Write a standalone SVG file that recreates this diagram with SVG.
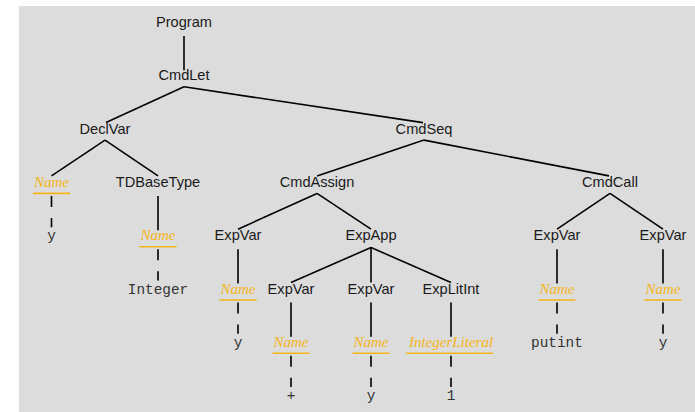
<svg xmlns="http://www.w3.org/2000/svg" width="695" height="412" viewBox="0 0 695 412">
<style>
.n{font-family:"Liberation Sans",Arial,sans-serif;font-size:14.6px;fill:#1a1a1a;text-anchor:middle}
.nm{font-family:"Liberation Serif","Times New Roman",serif;font-style:italic;font-size:15px;fill:#f4b41a;text-anchor:middle}
.lx{font-family:"Liberation Mono","Courier New",monospace;font-size:14.4px;fill:#333;text-anchor:middle}
.ul{stroke:#f4b41a;stroke-width:1.6}
.e line{stroke:#000;stroke-width:1.6}
.e line.d{stroke-dasharray:11 11}
</style>
<rect x="19" y="6" width="676" height="406" fill="#dcdcdc"/>
<g class="e" id="connectors">
<line x1="184" y1="36" x2="184" y2="70.3"/>
<line x1="184" y1="86.8" x2="106" y2="122.6"/>
<line x1="184" y1="86.8" x2="423" y2="122.6"/>
<line x1="105" y1="140.1" x2="51.5" y2="175.9"/>
<line x1="105" y1="140.1" x2="158" y2="175.9"/>
<line class="d" x1="51.5" y1="195.9" x2="51.5" y2="227.2"/>
<line x1="158" y1="195.9" x2="158" y2="230.2"/>
<line class="d" x1="158" y1="249.2" x2="158" y2="280.5"/>
<line x1="424" y1="140.1" x2="317" y2="175.9"/>
<line x1="424" y1="140.1" x2="609" y2="175.9"/>
<line x1="317" y1="193.4" x2="238" y2="229.2"/>
<line x1="317" y1="193.4" x2="371" y2="229.2"/>
<line x1="238" y1="249.2" x2="238" y2="283.5"/>
<line class="d" x1="238" y1="302.5" x2="238" y2="333.8"/>
<line x1="371" y1="247.5" x2="291" y2="282.5"/>
<line x1="371" y1="247.5" x2="371" y2="282.5"/>
<line x1="371" y1="247.5" x2="451" y2="282.5"/>
<line x1="291" y1="302.5" x2="291" y2="336.8"/>
<line x1="371" y1="302.5" x2="371" y2="336.8"/>
<line x1="451" y1="302.5" x2="451" y2="336.8"/>
<line class="d" x1="291" y1="355.8" x2="291" y2="387.1"/>
<line class="d" x1="371" y1="355.8" x2="371" y2="387.1"/>
<line class="d" x1="451" y1="355.8" x2="451" y2="387.1"/>
<line x1="610" y1="193.4" x2="557" y2="229.2"/>
<line x1="610" y1="193.4" x2="663" y2="229.2"/>
<line x1="557" y1="249.2" x2="557" y2="283.5"/>
<line x1="663" y1="249.2" x2="663" y2="283.5"/>
<line class="d" x1="557" y1="302.5" x2="557" y2="333.8"/>
<line class="d" x1="663" y1="302.5" x2="663" y2="333.8"/>
</g>
<g id="program"><text class="n" x="184" y="27">Program</text></g>
<g id="cmdlet"><text class="n" x="184" y="80.3">CmdLet</text></g>
<g id="declvar"><text class="n" x="105" y="133.6">DeclVar</text></g>
<g id="cmdseq"><text class="n" x="424" y="133.6">CmdSeq</text></g>
<g id="name1"><text class="nm" x="51.5" y="186.9">Name</text><line class="ul" x1="33" y1="193.4" x2="70" y2="193.4"/></g>
<g id="lex-y1"><text class="lx" x="51.5" y="240.2">y</text></g>
<g id="tdbasetype"><text class="n" x="158" y="186.9">TDBaseType</text></g>
<g id="name2"><text class="nm" x="158" y="240.2">Name</text><line class="ul" x1="139.5" y1="246.7" x2="176.5" y2="246.7"/></g>
<g id="lex-integer"><text class="lx" x="158" y="293.5">Integer</text></g>
<g id="cmdassign"><text class="n" x="317" y="186.9">CmdAssign</text></g>
<g id="expvar1"><text class="n" x="238" y="240.2">ExpVar</text></g>
<g id="name3"><text class="nm" x="238" y="293.5">Name</text><line class="ul" x1="219.5" y1="300" x2="256.5" y2="300"/></g>
<g id="lex-y2"><text class="lx" x="238" y="346.8">y</text></g>
<g id="expapp"><text class="n" x="371" y="240.2">ExpApp</text></g>
<g id="expvar2"><text class="n" x="291" y="293.5">ExpVar</text></g>
<g id="name4"><text class="nm" x="291" y="346.8">Name</text><line class="ul" x1="272.5" y1="353.3" x2="309.5" y2="353.3"/></g>
<g id="lex-plus"><text class="lx" x="291" y="400.1">+</text></g>
<g id="expvar3"><text class="n" x="371" y="293.5">ExpVar</text></g>
<g id="name5"><text class="nm" x="371" y="346.8">Name</text><line class="ul" x1="352.5" y1="353.3" x2="389.5" y2="353.3"/></g>
<g id="lex-y3"><text class="lx" x="371" y="400.1">y</text></g>
<g id="explitint"><text class="n" x="451" y="293.5">ExpLitInt</text></g>
<g id="integerliteral"><text class="nm" x="451" y="346.8">IntegerLiteral</text><line class="ul" x1="406" y1="353.3" x2="493" y2="353.3"/></g>
<g id="lex-1"><text class="lx" x="451" y="400.1">1</text></g>
<g id="cmdcall"><text class="n" x="610" y="186.9">CmdCall</text></g>
<g id="expvar4"><text class="n" x="557" y="240.2">ExpVar</text></g>
<g id="name6"><text class="nm" x="557" y="293.5">Name</text><line class="ul" x1="538.5" y1="300" x2="575.5" y2="300"/></g>
<g id="lex-putint"><text class="lx" x="557" y="346.8">putint</text></g>
<g id="expvar5"><text class="n" x="663" y="240.2">ExpVar</text></g>
<g id="name7"><text class="nm" x="663" y="293.5">Name</text><line class="ul" x1="644.5" y1="300" x2="681.5" y2="300"/></g>
<g id="lex-y4"><text class="lx" x="663" y="346.8">y</text></g>
</svg>
